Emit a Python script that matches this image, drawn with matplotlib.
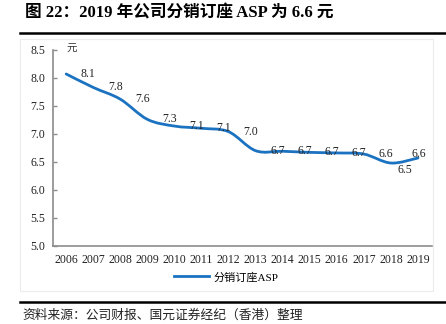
import matplotlib
matplotlib.use("Agg")
import matplotlib.pyplot as plt
from matplotlib.lines import Line2D
from matplotlib.patches import PathPatch, Rectangle
from matplotlib.path import Path

anos = ["2006", "2007", "2008", "2009", "2010", "2011", "2012",
        "2013", "2014", "2015", "2016", "2017", "2018", "2019"]
asp = [8.07, 7.83, 7.62, 7.26, 7.14, 7.10, 7.04,
       6.70, 6.69, 6.67, 6.66, 6.64, 6.48, 6.57]
rotulos = ["8.1", "7.8", "7.6", "7.3", "7.1", "7.1", "7.0",
           "6.7", "6.7", "6.7", "6.7", "6.6", "6.5", "6.6"]
yticks = [5.0, 5.5, 6.0, 6.5, 7.0, 7.5, 8.0, 8.5]

AZUL = "#1b72c0"
CINZA = "#8c8c8c"
SERIF_CJK = ["Liberation Serif", "Noto Sans CJK SC"]
CJK = ["Noto Sans CJK SC", "DejaVu Sans"]

# deslocamento dos rotulos em pixels (estilo do Excel)
desl_x = [22] * 12 + [14, 1]
desl_y = [0] * 12 + [-6.5, 3.5]


def curva_suave(xs, ys):
    # bezier tipo "linha suavizada" do Excel
    pts = list(zip(xs, ys))
    n = len(pts)
    verts = [pts[0]]
    codes = [Path.MOVETO]
    for i in range(n - 1):
        p0 = pts[i - 1] if i > 0 else pts[i]
        p1 = pts[i]
        p2 = pts[i + 1]
        p3 = pts[i + 2] if i + 2 < n else pts[i + 1]
        c1 = (p1[0] + (p2[0] - p0[0]) / 6, p1[1] + (p2[1] - p0[1]) / 6)
        c2 = (p2[0] - (p3[0] - p1[0]) / 6, p2[1] - (p3[1] - p1[1]) / 6)
        verts += [c1, c2, p2]
        codes += [Path.CURVE4] * 3
    return Path(verts, codes)


fig = plt.figure(figsize=(4.46, 3.24), dpi=100)
ax = fig.add_axes([0.118, 0.241, 0.8495, 0.605])

x = list(range(len(anos)))
ax.add_patch(PathPatch(curva_suave(x, asp), fill=False, edgecolor=AZUL,
                       lw=2.0, capstyle="round", zorder=3))

for i, (v, r) in enumerate(zip(asp, rotulos)):
    ax.annotate(r, (i, v), xytext=(desl_x[i], desl_y[i]), textcoords="offset pixels",
                ha="center", va="center", fontsize=8.5, family="Liberation Serif",
                color="#222222", zorder=4)

ax.set_xlim(-0.5, len(anos) - 0.5)
ax.set_ylim(5.0, 8.5)
ax.set_xticks(x)
ax.set_xticklabels(anos, family="Liberation Serif", fontsize=8.5)
ax.set_yticks(yticks)
ax.set_yticklabels([f"{t:.1f}" for t in yticks], family="Liberation Serif", fontsize=8.5)
ax.tick_params(axis="x", length=0, pad=6, colors="#222222")
ax.tick_params(axis="y", direction="in", length=3, width=1, color=CINZA,
               pad=5.5, labelcolor="#222222")
for lado in ("top", "right"):
    ax.spines[lado].set_visible(False)
for lado in ("left", "bottom"):
    ax.spines[lado].set_color(CINZA)
    ax.spines[lado].set_linewidth(1.2)

ax.text(0.05, 1.005, "元", transform=ax.transAxes, family=CJK, fontsize=7.5,
        color="#333333", ha="center", va="center")

linha = Line2D([], [], color=AZUL, lw=2.0, label="分销订座ASP")
fig.legend(handles=[linha], loc="center", bbox_to_anchor=(226 / 446, 1 - 277 / 324),
           frameon=False, prop={"family": SERIF_CJK, "size": 8}, handlelength=3.2,
           handletextpad=0.4)

# moldura clara da area do grafico
fig.patches.append(Rectangle((20 / 446, 1 - 291 / 324), 413 / 446, 252 / 324,
                             transform=fig.transFigure, fill=False,
                             edgecolor="#ececec", lw=0.8))

# titulo e fonte
fig.text(25 / 446, 1 - 13 / 324, "图 22：2019 年公司分销订座 ASP 为 6.6 元",
         family=SERIF_CJK, fontsize=12, fontweight="bold", ha="left", va="center")
fig.add_artist(Line2D([20 / 446, 1], [1 - 33 / 324] * 2, color="black", lw=1.8,
                      transform=fig.transFigure))
fig.add_artist(Line2D([20 / 446, 1], [1 - 302 / 324] * 2, color="black", lw=1.8,
                      transform=fig.transFigure))
fig.text(22 / 446, 1 - 315 / 324, "资料来源：公司财报、国元证券经纪（香港）整理",
         family=CJK, fontsize=9.2, ha="left", va="center", color="#222222")

fig.savefig("out.png", dpi=100)
